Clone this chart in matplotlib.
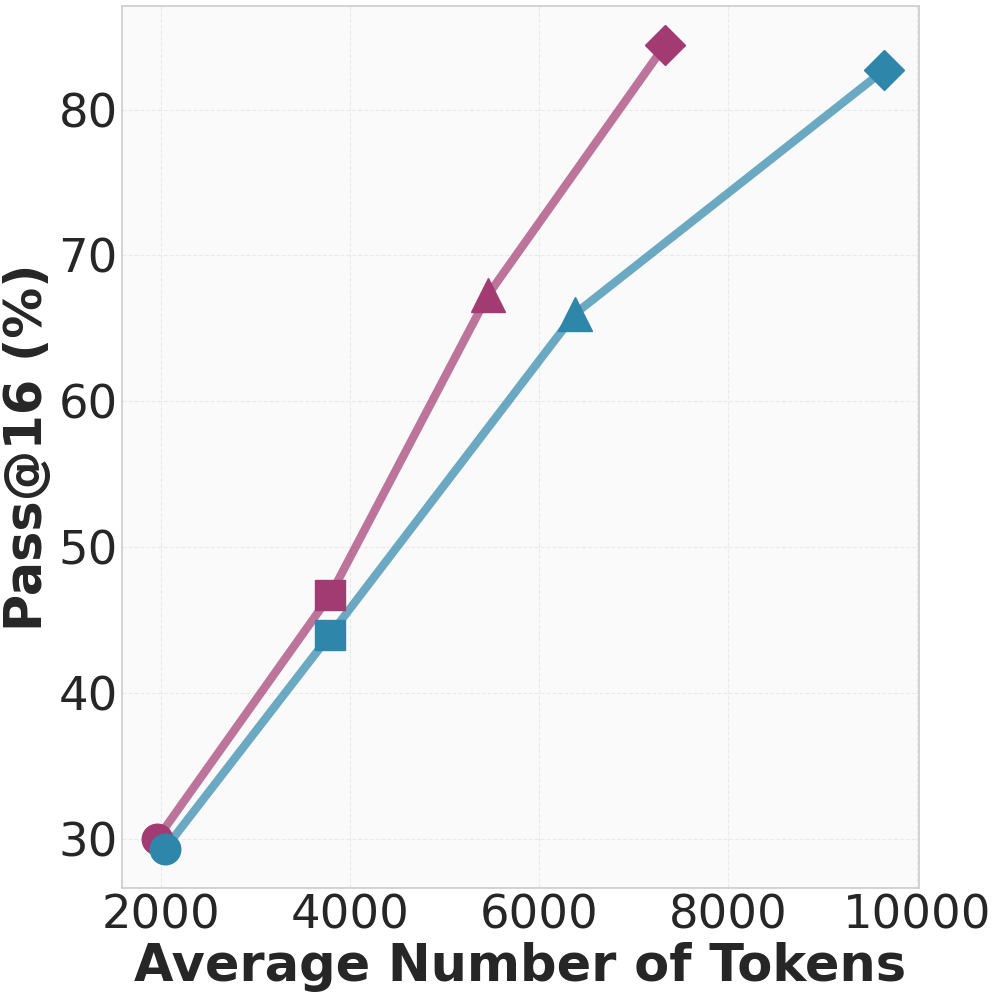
import matplotlib
matplotlib.use("Agg")
import matplotlib.pyplot as plt

pink_tokens = [1960, 3790, 5460, 7330]
pink_pass = [30.0, 46.7, 67.3, 84.4]
blue_tokens = [2040, 3790, 6380, 9650]
blue_pass = [29.3, 44.0, 66.0, 82.7]
markers = ['o', 's', '^', 'D']

pink = '#A23B72'
blue = '#2E86AB'
text_col = '#262626'

fig = plt.figure(figsize=(9.97, 9.97), dpi=100)
ax = fig.add_axes([0.1224, 0.109, 0.7994, 0.885])
ax.set_facecolor('#FAFAFA')

for xs, ys, c in [(pink_tokens, pink_pass, pink), (blue_tokens, blue_pass, blue)]:
    ax.plot(xs, ys, color=c, lw=6, alpha=0.7, zorder=2, solid_capstyle='round')
    for x, y, m in zip(xs, ys, markers):
        ms = 22 if m in ('o', 's') else 24
        if m == 'D':
            ms = 20
        ax.plot([x], [y], marker=m, ms=ms, color=c, mec=c, mew=1, zorder=3, ls='none')

ax.set_xlim(1587, 10020)
ax.set_ylim(26.6, 87.1)
ax.set_xticks([2000, 4000, 6000, 8000, 10000])
ax.set_yticks([30, 40, 50, 60, 70, 80])
ax.grid(True, ls='--', lw=0.8, color='#E6E6E6', alpha=0.8)
ax.set_axisbelow(True)
for s in ax.spines.values():
    s.set_color('#CCCCCC')
    s.set_linewidth(1.2)
ax.tick_params(axis='both', labelsize=33.5, colors=text_col, length=0)
ax.tick_params(axis='y', pad=3)
ax.tick_params(axis='x', pad=4)

ax.set_xlabel('Average Number of Tokens', fontsize=36.7, fontweight='bold', color=text_col, labelpad=2)
ax.set_ylabel('Pass@16 (%)', fontsize=36.6, fontweight='bold', color=text_col, labelpad=4)

fig.savefig('out.png', dpi=100)
